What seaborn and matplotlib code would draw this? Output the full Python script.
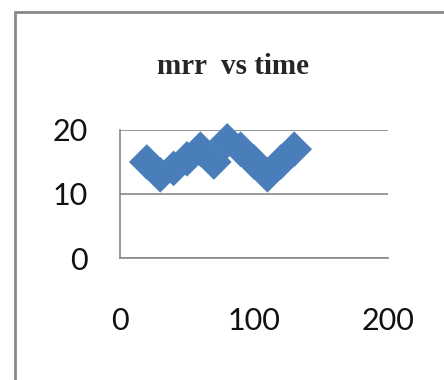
import matplotlib
matplotlib.use("Agg")
import matplotlib.pyplot as plt
import seaborn as sns
import pandas as pd
from matplotlib.patches import Rectangle

time = [20, 30, 40, 50, 60, 70, 80, 90, 100, 110, 120, 130]
mrr = [15, 13, 14, 15.5, 17, 15, 18.3, 17, 15, 13, 15, 17]
x_ticks = [0, 100, 200]
y_ticks = [0, 10, 20]
title = "mrr  vs time"

df = pd.DataFrame({"time": time, "mrr": mrr})

sns.set_style("white")
fig = plt.figure(figsize=(4.44, 3.8), dpi=100)
ax = fig.add_axes([120/444, 1-258/380, 268/444, 128/380])

sns.scatterplot(data=df, x="time", y="mrr", ax=ax, marker="D", s=330,
                color="#4A7EBB", edgecolor="none", linewidth=0, clip_on=False, zorder=3)

ax.set_xlim(0, 200)
ax.set_ylim(0, 20)
ax.set_xticks(x_ticks)
ax.set_yticks(y_ticks)
ax.set_xlabel("")
ax.set_ylabel("")
ax.grid(axis="y", color="#888888", linewidth=1.2)
ax.grid(axis="x", visible=False)
for s in ["top", "right"]:
    ax.spines[s].set_visible(False)
for s in ["left", "bottom"]:
    ax.spines[s].set_color("#888888")
    ax.spines[s].set_linewidth(1.2)
ax.tick_params(axis="both", colors="#888888", direction="out", length=10, width=1.2,
               labelcolor="#111111", labelsize=22)
ax.tick_params(axis="x", pad=25)
ax.tick_params(axis="y", pad=13)
for lab in ax.get_xticklabels() + ax.get_yticklabels():
    lab.set_fontfamily("Lato")

fig.text(233/444, 1-66/380, title, ha="center", va="center", fontsize=21,
         fontweight="bold", family="Liberation Serif")

fig.patches.append(Rectangle((15/444, -0.1), 1.2, 1-12/380+0.1, transform=fig.transFigure,
                             fill=False, edgecolor="#888888", linewidth=2))

fig.savefig("out.png", dpi=100)
